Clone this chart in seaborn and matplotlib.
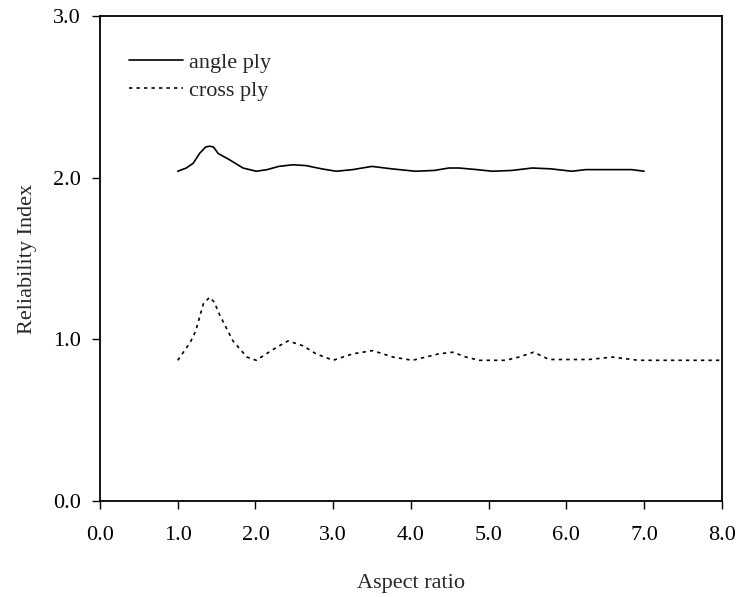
import matplotlib
matplotlib.use("Agg")
import matplotlib.pyplot as plt
import seaborn as sns
import pandas as pd
from matplotlib.ticker import FormatStrFormatter

angle_x = [1.0, 1.11, 1.20, 1.28, 1.36, 1.41, 1.46, 1.52, 1.67, 1.84, 2.01, 2.15, 2.30, 2.48, 2.65,
           2.85, 3.04, 3.25, 3.50, 3.75, 4.06, 4.30, 4.49, 4.62, 4.85, 5.05, 5.30, 5.56, 5.80,
           6.07, 6.25, 6.50, 6.84, 7.0]
angle_y = [2.04, 2.06, 2.09, 2.15, 2.19, 2.195, 2.19, 2.15, 2.11, 2.06, 2.04, 2.05, 2.07, 2.08, 2.075,
           2.055, 2.04, 2.05, 2.07, 2.055, 2.04, 2.045, 2.06, 2.06, 2.05, 2.04, 2.045, 2.06, 2.055,
           2.04, 2.05, 2.05, 2.05, 2.04]

cross_x = [1.0, 1.16, 1.23, 1.33, 1.41, 1.47, 1.54, 1.71, 1.89, 2.01, 2.27, 2.42, 2.61, 2.78, 3.0,
           3.25, 3.51, 3.77, 4.02, 4.36, 4.54, 4.71, 4.88, 5.22, 5.39, 5.58, 5.78, 6.29, 6.59,
           6.76, 6.93, 7.5, 8.0]
cross_y = [0.87, 0.98, 1.05, 1.22, 1.26, 1.23, 1.15, 0.99, 0.89, 0.87, 0.95, 0.99, 0.96, 0.91, 0.87,
           0.91, 0.93, 0.89, 0.87, 0.91, 0.92, 0.89, 0.87, 0.87, 0.89, 0.92, 0.875, 0.875, 0.89,
           0.88, 0.87, 0.87, 0.87]

x_ticks = [0, 1, 2, 3, 4, 5, 6, 7, 8]
y_ticks = [0, 1, 2, 3]

sns.set_style("ticks")
plt.rcParams['font.family'] = ['Liberation Serif', 'DejaVu Serif']
plt.rcParams['font.size'] = 16

df_a = pd.DataFrame({"x": angle_x, "y": angle_y})
df_c = pd.DataFrame({"x": cross_x, "y": cross_y})

fig = plt.figure(figsize=(7.41, 5.97), dpi=100)
ax = fig.add_axes([0.135, 0.161, 0.839, 0.812])

sns.lineplot(data=df_a, x="x", y="y", ax=ax, color="black", linewidth=1.2, label="angle ply")
sns.lineplot(data=df_c, x="x", y="y", ax=ax, color="black", linewidth=1.2, label="cross ply")
ax.lines[1].set_dashes((2, 2.5))

ax.set_xlim(0, 8)
ax.set_ylim(0, 3)
ax.set_xticks(x_ticks)
ax.set_yticks(y_ticks)
ax.xaxis.set_major_formatter(FormatStrFormatter('%.1f'))
ax.yaxis.set_major_formatter(FormatStrFormatter('%.1f'))
ax.tick_params(axis='both', direction='out', length=6, width=1, labelsize=16, colors='black')
ax.tick_params(axis='x', pad=12)
ax.tick_params(axis='y', pad=8)
for s in ax.spines.values():
    s.set_visible(True)
    s.set_linewidth(1.3)
    s.set_color('black')

ax.set_xlabel("Aspect ratio", fontsize=16, labelpad=21)
ax.set_ylabel("Reliability Index", fontsize=16, labelpad=11)

leg = ax.legend(loc='upper left', frameon=False, fontsize=16, handlelength=2.4,
                handletextpad=0.3, labelspacing=0.35, bbox_to_anchor=(0.015, 0.967))

fig.savefig("out.png", dpi=100)
